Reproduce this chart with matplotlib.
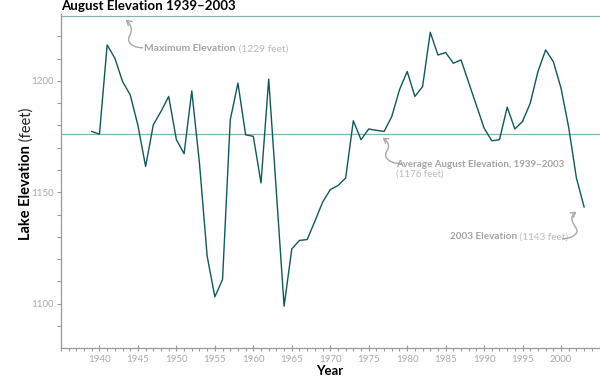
import matplotlib
matplotlib.use("Agg")
import matplotlib.pyplot as plt
import matplotlib.transforms as mtransforms
from matplotlib.patches import FancyArrowPatch
from matplotlib.path import Path

plt.rcParams['font.family'] = ['Lato', 'DejaVu Sans']

# ---- data ----
years = list(range(1939, 2004))
elevation = [
    1177.3, 1176.1, 1216.1, 1210.2, 1199.7, 1193.7, 1180.0, 1161.6, 1180.3, 1186.3,  # 1939-1948
    1193.0, 1173.6, 1167.3, 1195.5, 1163.0, 1121.3, 1103.1, 1110.9, 1182.5, 1199.0,  # 1949-1958
    1175.8, 1175.1, 1154.2, 1200.8, 1150.0, 1098.9, 1124.6, 1128.4, 1128.8, 1137.0,  # 1959-1968
    1145.5, 1151.2, 1153.0, 1156.4, 1182.1, 1173.6, 1178.4, 1177.8, 1177.3, 1184.0,  # 1969-1978
    1196.0, 1204.2, 1193.0, 1197.4, 1221.8, 1211.6, 1212.7, 1207.9, 1209.4, 1199.2,  # 1979-1988
    1189.0, 1178.8, 1173.1, 1173.6, 1188.2, 1178.4, 1181.8, 1190.0, 1204.2, 1213.9,  # 1989-1998
    1208.6, 1196.7, 1179.0, 1156.4, 1143.4,                                          # 1999-2003
]
max_elev = 1229
avg_elev = 1176
last_elev = 1143
x_major = list(range(1935, 2006, 5))
x_major_labels = [str(y) if 1940 <= y <= 2000 else '' for y in x_major]
x_minor = [y for y in range(1935, 2006) if y % 5 != 0]
y_major = [1100, 1150, 1200]
y_minor = [v for v in range(1090, 1230, 10) if v not in y_major]

LINE = '#11585a'
REF = '#80b6af'
AXC = '#9a9a9a'
TICKC = '#a9a9a9'
ANN1 = '#a3a3a3'
ANN2 = '#bababa'

fig = plt.figure(figsize=(6, 3.76), dpi=100)
W, H = 600, 376
ax = fig.add_axes([61 / W, (H - 348.3) / H, (599.5 - 61) / W, (348.3 - 14) / H])

ax.axhline(max_elev, color=REF, lw=0.9, zorder=1)
ax.axhline(avg_elev, color=REF, lw=0.9, zorder=1)
ax.plot(years, elevation, color=LINE, lw=1.0, zorder=3)

ax.set_xlim(1935, 2005)
ax.set_ylim(1080, 1230)

for s in ['top', 'right']:
    ax.spines[s].set_visible(False)
for s in ['left', 'bottom']:
    ax.spines[s].set_color(AXC)
    ax.spines[s].set_linewidth(0.9)

ax.set_xticks(x_major)
ax.set_xticklabels(x_major_labels)
ax.set_xticks(x_minor, minor=True)
ax.set_yticks(y_major)
ax.set_yticks(y_minor, minor=True)
ax.tick_params(axis='x', which='major', direction='inout', length=5, width=0.8,
               color=AXC, labelcolor=TICKC, labelsize=7, pad=2)
ax.tick_params(axis='x', which='minor', direction='out', length=1.8, width=0.8, color=AXC)
ax.tick_params(axis='y', which='both', direction='out', length=3, width=0.8,
               color=AXC, labelcolor=TICKC, labelsize=7, pad=2)

# ---- titles / labels ----
fig.text(61 / W, 1 - 10 / H, 'August Elevation 1939–2003', fontsize=9.6,
         fontweight='bold', color='black', ha='left', va='baseline')
fig.text(330 / W, 1 - 371 / H, 'Year', fontsize=9.5, fontweight='bold',
         color='black', ha='center', va='center')
yl = fig.text(26.5 / W, 1 - 240 / H, 'Lake Elevation', fontsize=10.5, fontweight='bold',
              color='black', rotation=90, ha='center', va='bottom')
fig.add_artist(matplotlib.text.Annotation(' (feet)', xy=(0.5, 1), xycoords=yl, fontsize=10.5,
                                          color='#222222', rotation=90, ha='center', va='bottom'))


def two_part(x, y, bold, light, size=7.2):
    t1 = ax.text(x, y, bold, fontsize=size, fontweight='bold', color=ANN1,
                 ha='left', va='center')
    if light:
        ax.annotate(light, xy=(1, 0), xycoords=t1, fontsize=size, color=ANN2,
                    ha='left', va='bottom')
    return t1


two_part(1945.8, 1214.3, 'Maximum Elevation', ' (1229 feet)', 7.4)
two_part(1978.5, 1162.5, 'Average August Elevation, 1939–2003', None, 7.0)
ax.text(1978.5, 1158.0, '(1176 feet)', fontsize=7.0, color=ANN2, ha='left', va='center')
two_part(1985.6, 1130.1, '2003 Elevation', ' (1143 feet)', 7.2)


def curved_arrow(tx, ty, verts):
    codes = [Path.MOVETO] + [Path.CURVE4] * (len(verts) - 1)
    trans = mtransforms.Affine2D() + mtransforms.ScaledTranslation(tx, ty, ax.transData)
    arr = FancyArrowPatch(path=Path(verts, codes), arrowstyle='->,head_length=3.2,head_width=2.0',
                          color='#a8a8a8', lw=1.0, transform=trans)
    fig.add_artist(arr)


# arrow tips in data coordinates, curve offsets in pixels
curved_arrow(1943.4, 1227.4, [(17, -28), (8, -28), (0, -23), (4, -16), (7, -11), (6, -5), (0, 0)])
curved_arrow(1976.8, 1174.5, [(19, -26), (9, -26), (0, -21), (4, -14), (7, -9), (7, -5), (0, 0)])
curved_arrow(2002.0, 1141.3, [(-14, -27), (-5, -27), (3, -22), (0, -17), (-3, -12), (-8, -6), (0, 0)])

fig.savefig('out.png', dpi=100)
